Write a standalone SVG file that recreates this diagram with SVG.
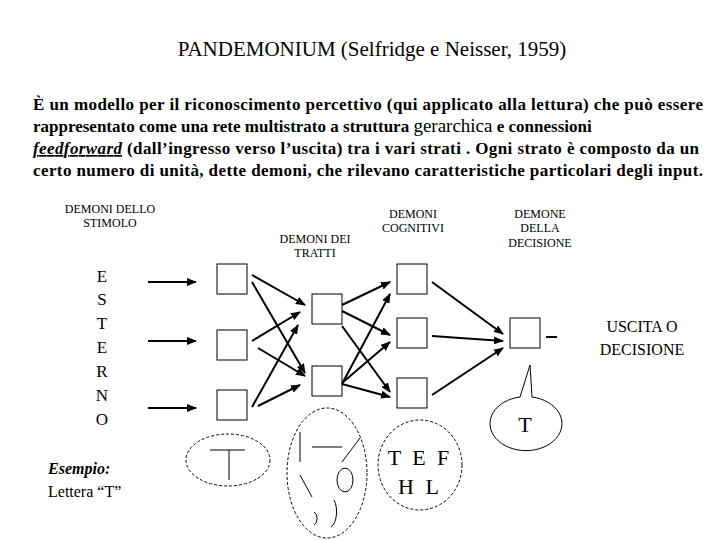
<svg xmlns="http://www.w3.org/2000/svg" width="720" height="540" viewBox="0 0 720 540" font-family="'Liberation Serif','DejaVu Serif','Times New Roman',serif">
<defs><marker id="a" markerWidth="10" markerHeight="8" refX="9" refY="4" orient="auto" markerUnits="userSpaceOnUse"><path d="M0,0L10,4L0,8z" fill="#000"/></marker>
<style>text{font-family:'Liberation Serif','DejaVu Serif','Times New Roman',serif;fill:#000}.s{font-size:12px}.b{font-size:17px;font-weight:bold}rect{fill:#fff;stroke:#000;stroke-width:1}.c line{stroke:#000;stroke-width:2;marker-end:url(#a)}.d{fill:none;stroke:#000;stroke-dasharray:3,2}</style></defs>
<rect x="0" y="0" width="720" height="540" style="stroke:none"/>
<text x="372" y="56" text-anchor="middle" font-size="21">PANDEMONIUM (Selfridge e Neisser, 1959)</text>
<text class="b" x="33" y="110" textLength="670">È un modello per il riconoscimento percettivo (qui applicato alla lettura) che può essere</text>
<text class="b" x="33" y="132">rappresentato come una rete multistrato a struttura <tspan font-size="19" font-weight="normal">gerarchica</tspan> e connessioni</text>
<text class="b" x="33" y="154" textLength="666"><tspan font-style="italic" text-decoration="underline">feedforward</tspan> (dall’ingresso verso l’uscita) tra i vari strati . Ogni strato è composto da un</text>
<text class="b" x="33" y="176" textLength="670">certo numero di unità, dette demoni, che rilevano caratteristiche particolari degli input.</text>
<g id="lab"><text class="s" x="110" y="213" text-anchor="middle">DEMONI DELLO</text><text class="s" x="110" y="227" text-anchor="middle">STIMOLO</text>
<text class="s" x="315" y="243" text-anchor="middle">DEMONI DEI</text><text class="s" x="315" y="257" text-anchor="middle">TRATTI</text>
<text class="s" x="413" y="218" text-anchor="middle">DEMONI</text><text class="s" x="413" y="232" text-anchor="middle">COGNITIVI</text>
<text class="s" x="540" y="218" text-anchor="middle">DEMONE</text><text class="s" x="540" y="232" text-anchor="middle">DELLA</text><text class="s" x="540" y="247" text-anchor="middle">DECISIONE</text>
<g font-size="17" text-anchor="middle"><text x="102" y="282">E</text><text x="102" y="305">S</text><text x="102" y="329">T</text><text x="102" y="353">E</text><text x="102" y="377">R</text><text x="102" y="401">N</text><text x="102" y="425">O</text></g>
<text x="642" y="332" font-size="16" text-anchor="middle">USCITA O</text><text x="642" y="355" font-size="16" text-anchor="middle">DECISIONE</text>
<text x="48" y="474" font-size="16" font-style="italic" font-weight="bold">Esempio:</text><text x="48" y="497" font-size="16">Lettera “T”</text></g>
<g id="n1"><rect x="217" y="264" width="30" height="30"/></g><g id="n2"><rect x="217" y="330" width="30" height="30"/></g><g id="n3"><rect x="217" y="390" width="30" height="30"/></g>
<g id="n4"><rect x="312" y="294" width="30" height="30"/></g><g id="n5"><rect x="312" y="366" width="30" height="30"/></g>
<g id="n6"><rect x="397" y="264" width="30" height="30"/></g><g id="n7"><rect x="397" y="318" width="30" height="30"/></g><g id="n8"><rect x="397" y="378" width="30" height="30"/></g>
<g id="n9"><rect x="510" y="318" width="30" height="30"/></g>
<g class="c">
<line x1="148" y1="282" x2="196" y2="282"/><line x1="148" y1="341" x2="196" y2="341"/><line x1="148" y1="408" x2="196" y2="408"/>
<line x1="252" y1="275" x2="305" y2="305"/><line x1="252" y1="282" x2="305" y2="373"/><line x1="252" y1="341" x2="300" y2="312"/><line x1="258" y1="348" x2="305" y2="376"/><line x1="252" y1="407" x2="298" y2="325"/><line x1="258" y1="406" x2="300" y2="385"/>
<line x1="342" y1="305" x2="390" y2="282"/><line x1="342" y1="311" x2="390" y2="335"/><line x1="342" y1="326" x2="390" y2="392"/><line x1="342" y1="384" x2="390" y2="294"/><line x1="342" y1="383" x2="390" y2="342"/><line x1="342" y1="384" x2="390" y2="397"/>
<line x1="432" y1="282" x2="503" y2="334"/><line x1="432" y1="336" x2="503" y2="341"/><line x1="432" y1="395" x2="503" y2="348"/>
<path d="M546 337H557" stroke="#000" stroke-width="2"/>
</g>
<g id="bubble"><path d="M520,397 L530,365 L532,397 A36,27 0 1 1 520,397 Z" fill="#fff" stroke="#000"/><text x="525" y="432" font-size="22" text-anchor="middle">T</text></g>
<g id="e1"><ellipse class="d" cx="228" cy="460" rx="42" ry="26"/><path d="M210,450H245M229,450V480" stroke="#000" fill="none"/></g>
<g id="e2"><ellipse class="d" cx="327" cy="473" rx="40" ry="65"/><path d="M300,432V462M312,447H342M342,462L360,438M300,475L312,497" stroke="#000" fill="none"/><ellipse cx="345" cy="480" rx="8" ry="12" fill="none" stroke="#000"/><path d="M314,512A5,7 0 0 1 314,525M334,500A8,16 0 0 1 331,527" fill="none" stroke="#000"/></g>
<g id="e3"><ellipse class="d" cx="420" cy="465" rx="42" ry="45"/><text x="420" y="465" font-size="22" text-anchor="middle" letter-spacing="3">T E F</text><text x="420" y="494" font-size="22" text-anchor="middle" letter-spacing="3">H L</text></g>
</svg>
